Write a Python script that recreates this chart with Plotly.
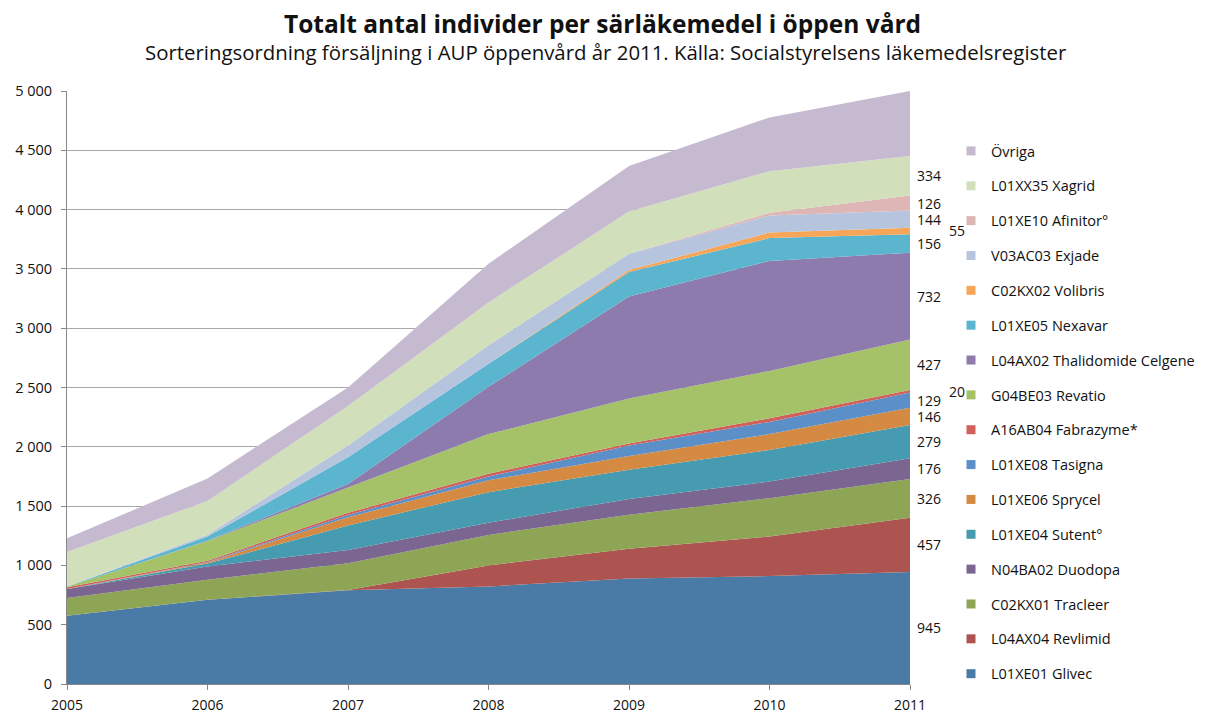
import plotly.graph_objects as go

years = [2005, 2006, 2007, 2008, 2009, 2010, 2011]

series_names = [
    "L01XE01 Glivec", "L04AX04 Revlimid", "C02KX01 Tracleer", "N04BA02 Duodopa",
    "L01XE04 Sutent°", "L01XE06 Sprycel", "L01XE08 Tasigna", "A16AB04 Fabrazyme*",
    "G04BE03 Revatio", "L04AX02 Thalidomide Celgene", "L01XE05 Nexavar",
    "C02KX02 Volibris", "V03AC03 Exjade", "L01XE10 Afinitor°", "L01XX35 Xagrid", "Övriga",
]

glivec      = [575, 710, 790, 823, 890, 910, 945]
revlimid    = [0, 0, 3, 177, 250, 333, 457]
tracleer    = [150, 170, 225, 257, 287, 324, 326]
duodopa     = [75, 110, 112, 103, 133, 140, 176]
sutent      = [0, 25, 207, 257, 247, 266, 279]
sprycel     = [0, 10, 68, 100, 116, 134, 146]
tasigna     = [0, 3, 20, 33, 87, 103, 129]
fabrazyme   = [15, 12, 18, 23, 17, 30, 20]
revatio     = [5, 165, 214, 334, 380, 400, 427]
thalidomide = [0, 3, 30, 400, 860, 927, 732]
nexavar     = [3, 35, 224, 193, 206, 193, 156]
volibris    = [0, 0, 0, 0, 17, 47, 55]
exjade      = [0, 15, 100, 157, 137, 143, 144]
afinitor    = [0, 0, 0, 0, 0, 23, 126]
xagrid      = [290, 285, 334, 360, 356, 350, 334]
ovriga      = [115, 190, 155, 326, 384, 454, 548]

all_series = [glivec, revlimid, tracleer, duodopa, sutent, sprycel, tasigna, fabrazyme,
              revatio, thalidomide, nexavar, volibris, exjade, afinitor, xagrid, ovriga]

colors = ["#4A7BA7", "#AD5450", "#8FA556", "#7B6591", "#469BB0", "#D48A43", "#5B8FC8",
          "#D0605C", "#A6C268", "#8C7BAC", "#5BB5CF", "#F6A656", "#B6C4DE", "#DFB6B6",
          "#D1DFBA", "#C6BAD0"]

label_show = [True] * 15 + [False]
label_far = {"C02KX02 Volibris", "A16AB04 Fabrazyme*"}

FONT = "Open Sans"
# the page body has an 8px default margin; compensate so the plot lands where the reference has it
OFF = 8
W, H = 1197, 708
PL, PR, PT, PB = 67, 910, 91, 684  # plot area in page pixels

fig = go.Figure()
for name, vals, col in zip(series_names, all_series, colors):
    fig.add_trace(go.Scatter(
        x=years, y=vals, name=name, mode="lines", stackgroup="one",
        line=dict(width=0, color=col), fillcolor=col, showlegend=False,
    ))

# legend entries with square swatches, top item = top band
for name, col in reversed(list(zip(series_names, colors))):
    fig.add_trace(go.Scatter(
        x=[None], y=[None], mode="markers", name=name, legendgroup=name,
        marker=dict(symbol="square", size=9, color=col), showlegend=True,
    ))

annotations = []
cum = 0
for name, vals, show in zip(series_names, all_series, label_show):
    v = vals[-1]
    mid = cum + v / 2
    cum += v
    if show:
        annotations.append(dict(
            x=years[-1], y=mid, xref="x", yref="y", text=str(v), showarrow=False,
            xanchor="left", yanchor="middle",
            xshift=37 if name in label_far else 5,
            font=dict(family=FONT, size=14, color="#111"),
        ))

pw = PR - PL
ph = PB - PT
annotations.append(dict(
    text="Sorteringsordning försäljning i AUP öppenvård år 2011. Källa: Socialstyrelsens läkemedelsregister",
    xref="paper", yref="paper", x=(606 - PL) / pw, y=(PB - 52) / ph,
    xanchor="center", yanchor="middle", showarrow=False,
    font=dict(family=FONT, size=20.4, color="#111"),
))
annotations.append(dict(
    text="<b>Totalt antal individer per särläkemedel i öppen vård</b>",
    xref="paper", yref="paper", x=(602 - PL) / pw, y=(PB - 24) / ph,
    xanchor="center", yanchor="middle", showarrow=False,
    font=dict(family=FONT, size=24.5, color="#111"),
))

fig.update_layout(
    width=W, height=H,
    margin=dict(l=PL - OFF, r=W + OFF - PR, t=PT - OFF, b=H + OFF - PB, autoexpand=False),
    paper_bgcolor="white", plot_bgcolor="white",
    separators=", ",
    annotations=annotations,
    showlegend=True,
    legend=dict(
        x=(951 - PL) / pw, y=(PB - 135) / ph, xanchor="left", yanchor="top",
        traceorder="grouped", tracegroupgap=13, maxheight=700,
        font=dict(family=FONT, size=14.5, color="#111"),
        bgcolor="rgba(0,0,0,0)", itemwidth=30,
    ),
    xaxis=dict(
        range=[2005, 2011], tickvals=years, ticktext=[str(y) for y in years],
        showgrid=False, showline=True, linecolor="#888", linewidth=1,
        ticks="outside", ticklen=5, tickcolor="#888", ticklabelstandoff=3,
        tickfont=dict(family=FONT, size=14, color="#111"),
        zeroline=False,
    ),
    yaxis=dict(
        range=[0, 5000], dtick=500, tickformat=",d",
        showgrid=True, gridcolor="#a8a8a8", gridwidth=1,
        showline=True, linecolor="#888", linewidth=1,
        ticks="outside", ticklen=5, tickcolor="#888", ticklabelstandoff=6,
        tickfont=dict(family=FONT, size=14.5, color="#111"),
        zeroline=False,
    ),
)

fig.write_html("out.html")
